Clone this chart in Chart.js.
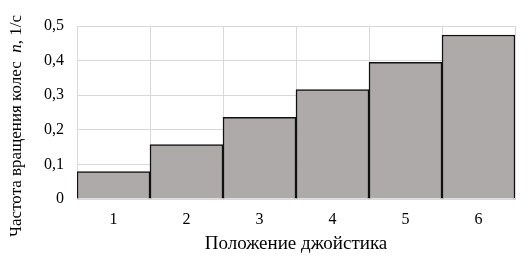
<!DOCTYPE html>
<html>
<head>
<meta charset="utf-8">
<script src="https://cdn.jsdelivr.net/npm/chart.js@4/dist/chart.umd.min.js"></script>
<style>
  html, body { margin: 0; padding: 0; background: #fff; }
  #wrap { width: 531px; height: 272px; }
</style>
</head>
<body>
<div id="wrap"><canvas id="grafico" width="531" height="272"></canvas></div>
<script>
// dados
const posicoes = ["1", "2", "3", "4", "5", "6"];
const frequencia = [0.079, 0.157, 0.236, 0.316, 0.395, 0.474];
const ticksY = [0, 0.1, 0.2, 0.3, 0.4, 0.5];

const fonte = "'Liberation Serif', 'Times New Roman', serif";

// títulos dos eixos (o "n" vai em itálico)
const titulos = {
  id: "titulos",
  afterDraw(chart) {
    const ctx = chart.ctx;
    const area = chart.chartArea;
    ctx.save();
    ctx.fillStyle = "#000";

    // eixo X
    ctx.font = "19px " + fonte;
    ctx.textAlign = "center";
    ctx.textBaseline = "alphabetic";
    ctx.fillText("Положение джойстика", (area.left + area.right) / 2, 249);

    // eixo Y (girado)
    ctx.textBaseline = "middle";
    const partes = [
      { t: "Частота вращения колес  ", f: "17px " + fonte },
      { t: "n", f: "italic 17px " + fonte },
      { t: ", 1/с", f: "17px " + fonte }
    ];
    let total = 0;
    partes.forEach(p => { ctx.font = p.f; p.w = ctx.measureText(p.t).width; total += p.w; });
    ctx.translate(17, 126);
    ctx.rotate(-Math.PI / 2);
    ctx.textAlign = "left";
    let x = -total / 2;
    partes.forEach(p => { ctx.font = p.f; ctx.fillText(p.t, x, 0); x += p.w; });
    ctx.restore();
  }
};

new Chart(document.getElementById("grafico"), {
  type: "bar",
  data: {
    labels: posicoes,
    datasets: [{
      data: frequencia,
      backgroundColor: "#aeaaaa",
      borderColor: "#111",
      borderWidth: 1.5,
      borderSkipped: "bottom",
      barPercentage: 1,
      categoryPercentage: 1
    }]
  },
  options: {
    responsive: false,
    animation: false,
    layout: { padding: { top: 26, right: 16, left: 0, bottom: 0 } },
    plugins: { legend: { display: false }, tooltip: { enabled: false } },
    scales: {
      x: {
        offset: true,
        grid: { color: "#d9d9d9", offset: true, drawTicks: false },
        border: { color: "#d9d9d9" },
        ticks: { color: "#000", font: { family: fonte, size: 16 }, padding: 11 },
        afterFit(scale) { scale.height = 73; }
      },
      y: {
        min: 0,
        max: 0.5,
        afterBuildTicks(scale) { scale.ticks = ticksY.map(v => ({ value: v })); },
        grid: { color: "#d9d9d9", drawTicks: false },
        border: { color: "#d9d9d9" },
        ticks: {
          color: "#000",
          font: { family: fonte, size: 16 },
          padding: 13,
          callback: v => String(v).replace(".", ",")
        },
        afterFit(scale) { scale.width = 77; }
      }
    }
  },
  plugins: [titulos]
});
</script>
</body>
</html>
